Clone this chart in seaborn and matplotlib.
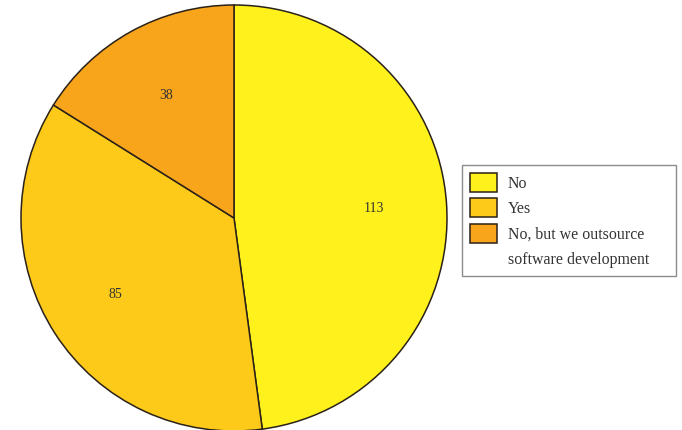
import matplotlib

matplotlib.use("Agg")
import matplotlib.pyplot as plt
from matplotlib.patches import Patch
import seaborn as sns

CATEGORIES = ["No", "Yes", "No, but we outsource"]
LEGEND_EXTRA = "software development"  # second line of the last legend entry
COUNTS = [113, 85, 38]
COLORS = ["#FFF21C", "#FDCA1A", "#F9A51C"]

sns.set_theme(style="white")
plt.rcParams["font.family"] = ["Liberation Serif", "DejaVu Serif"]

fig = plt.figure(figsize=(6.82, 4.30), dpi=100)
# pie axes placed so the circle sits left, slightly cut at the bottom
ax = fig.add_axes([21 / 682, 1 - 431 / 430, 426 / 682, 426 / 430])

total = sum(COUNTS)
wedges, _, autotexts = ax.pie(
    COUNTS,
    colors=sns.color_palette(COLORS),
    startangle=90,
    counterclock=False,
    radius=1,
    autopct=lambda p: f"{round(p * total / 100):d}",
    pctdistance=0.66,
    wedgeprops=dict(edgecolor="#2a2118", linewidth=1.1),
    textprops=dict(fontsize=10, color="#333333"),
)
ax.set_xlim(-1, 1)
ax.set_ylim(-1, 1)
ax.set_aspect("equal")
ax.axis("off")

handles = list(wedges) + [Patch(facecolor="none", edgecolor="none")]
labels = CATEGORIES + [LEGEND_EXTRA]
leg = fig.legend(
    handles,
    labels,
    loc="upper left",
    bbox_to_anchor=(462 / 682, 1 - 271 / 430, 214 / 682, 106 / 430),
    mode="expand",
    frameon=True,
    fancybox=False,
    fontsize=11.4,
    handlelength=1.7,
    handleheight=1.45,
    labelspacing=0.42,
    borderpad=0.5,
    borderaxespad=0,
    handletextpad=0.7,
)
leg.get_frame().set_edgecolor("#707070")
leg.get_frame().set_linewidth(1.0)
for t in leg.get_texts():
    t.set_color("#333333")

fig.savefig("out.png", dpi=100)
